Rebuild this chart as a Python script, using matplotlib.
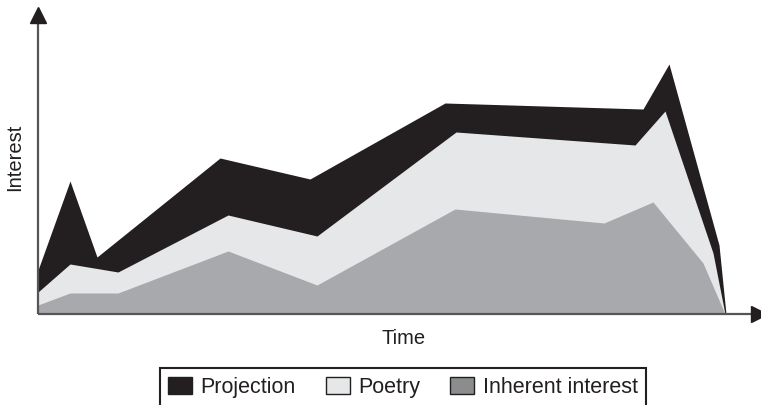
import matplotlib
matplotlib.use("Agg")
import matplotlib.pyplot as plt
from matplotlib.patches import Patch

plt.rcParams['font.family'] = ['Liberation Sans', 'DejaVu Sans']

# boundaries of each stacked layer (time, interest)
inherent_t = [0, 32, 80, 190, 279, 417, 566, 615, 665, 687]
inherent_v = [9, 21, 21, 63, 29, 105, 91, 112, 51, 0]

poetry_t = [0, 32, 80, 190, 279, 418, 597, 627, 675, 687]
poetry_v = [22, 50, 42, 99, 78, 182, 169, 203, 61, 0]

projection_t = [0, 32, 59, 182, 272, 407, 605, 631, 681, 688]
projection_v = [44, 133, 57, 156, 135, 211, 205, 250, 69, 0]

labels = ['Projection', 'Poetry', 'Inherent interest']
colors = ['#231f20', '#e6e7e8', '#a7a9ac']
legend_colors = ['#231f20', '#e6e7e8', '#8a8c8e']

W, H = 761, 405
fig = plt.figure(figsize=(W / 100, H / 100), dpi=100)
ax = fig.add_axes([38 / W, (H - 314) / H, (W - 38) / W, 307 / H])
ax.set_xlim(0, 723)
ax.set_ylim(0, 307)
ax.axis('off')

# paint from the top layer down so each lower layer covers the one above it
ax.fill_between(projection_t, projection_v, 0, color=colors[0], lw=0)
ax.fill_between(poetry_t, poetry_v, 0, color=colors[1], lw=0)
ax.fill_between(inherent_t, inherent_v, 0, color=colors[2], lw=0)

# axes with arrow heads
ax.plot([0, 716], [0, 0], color='#555555', lw=1.6, solid_capstyle='butt', clip_on=False)
ax.plot([0, 0], [0, 295], color='#555555', lw=1.6, solid_capstyle='butt', clip_on=False)
ax.plot(0, 299, marker='^', color='#231f20', ms=11, clip_on=False)
ax.plot(721, 0, marker='>', color='#231f20', ms=11, clip_on=False)

fig.text(404 / W, 1 - 338 / H, 'Time', ha='center', va='center', fontsize=14.5, color='#231f20')
fig.text(15 / W, 1 - 157 / H, 'Interest', ha='center', va='center', rotation=90,
         fontsize=14.5, color='#231f20')

handles = [Patch(facecolor=c, edgecolor='#231f20', lw=1.0) for c in legend_colors]
leg = fig.legend(handles, labels, ncol=3, loc='upper center',
                 bbox_to_anchor=(403 / W, 1 - 368 / H), fontsize=15.5,
                 frameon=True, fancybox=False, framealpha=1, borderpad=0.4,
                 handlelength=1.1, handleheight=0.9, handletextpad=0.4,
                 columnspacing=1.4, borderaxespad=0)
leg.get_frame().set_edgecolor('#231f20')
leg.get_frame().set_linewidth(1.5)
for t in leg.get_texts():
    t.set_color('#231f20')

fig.savefig('out.png', dpi=100)
